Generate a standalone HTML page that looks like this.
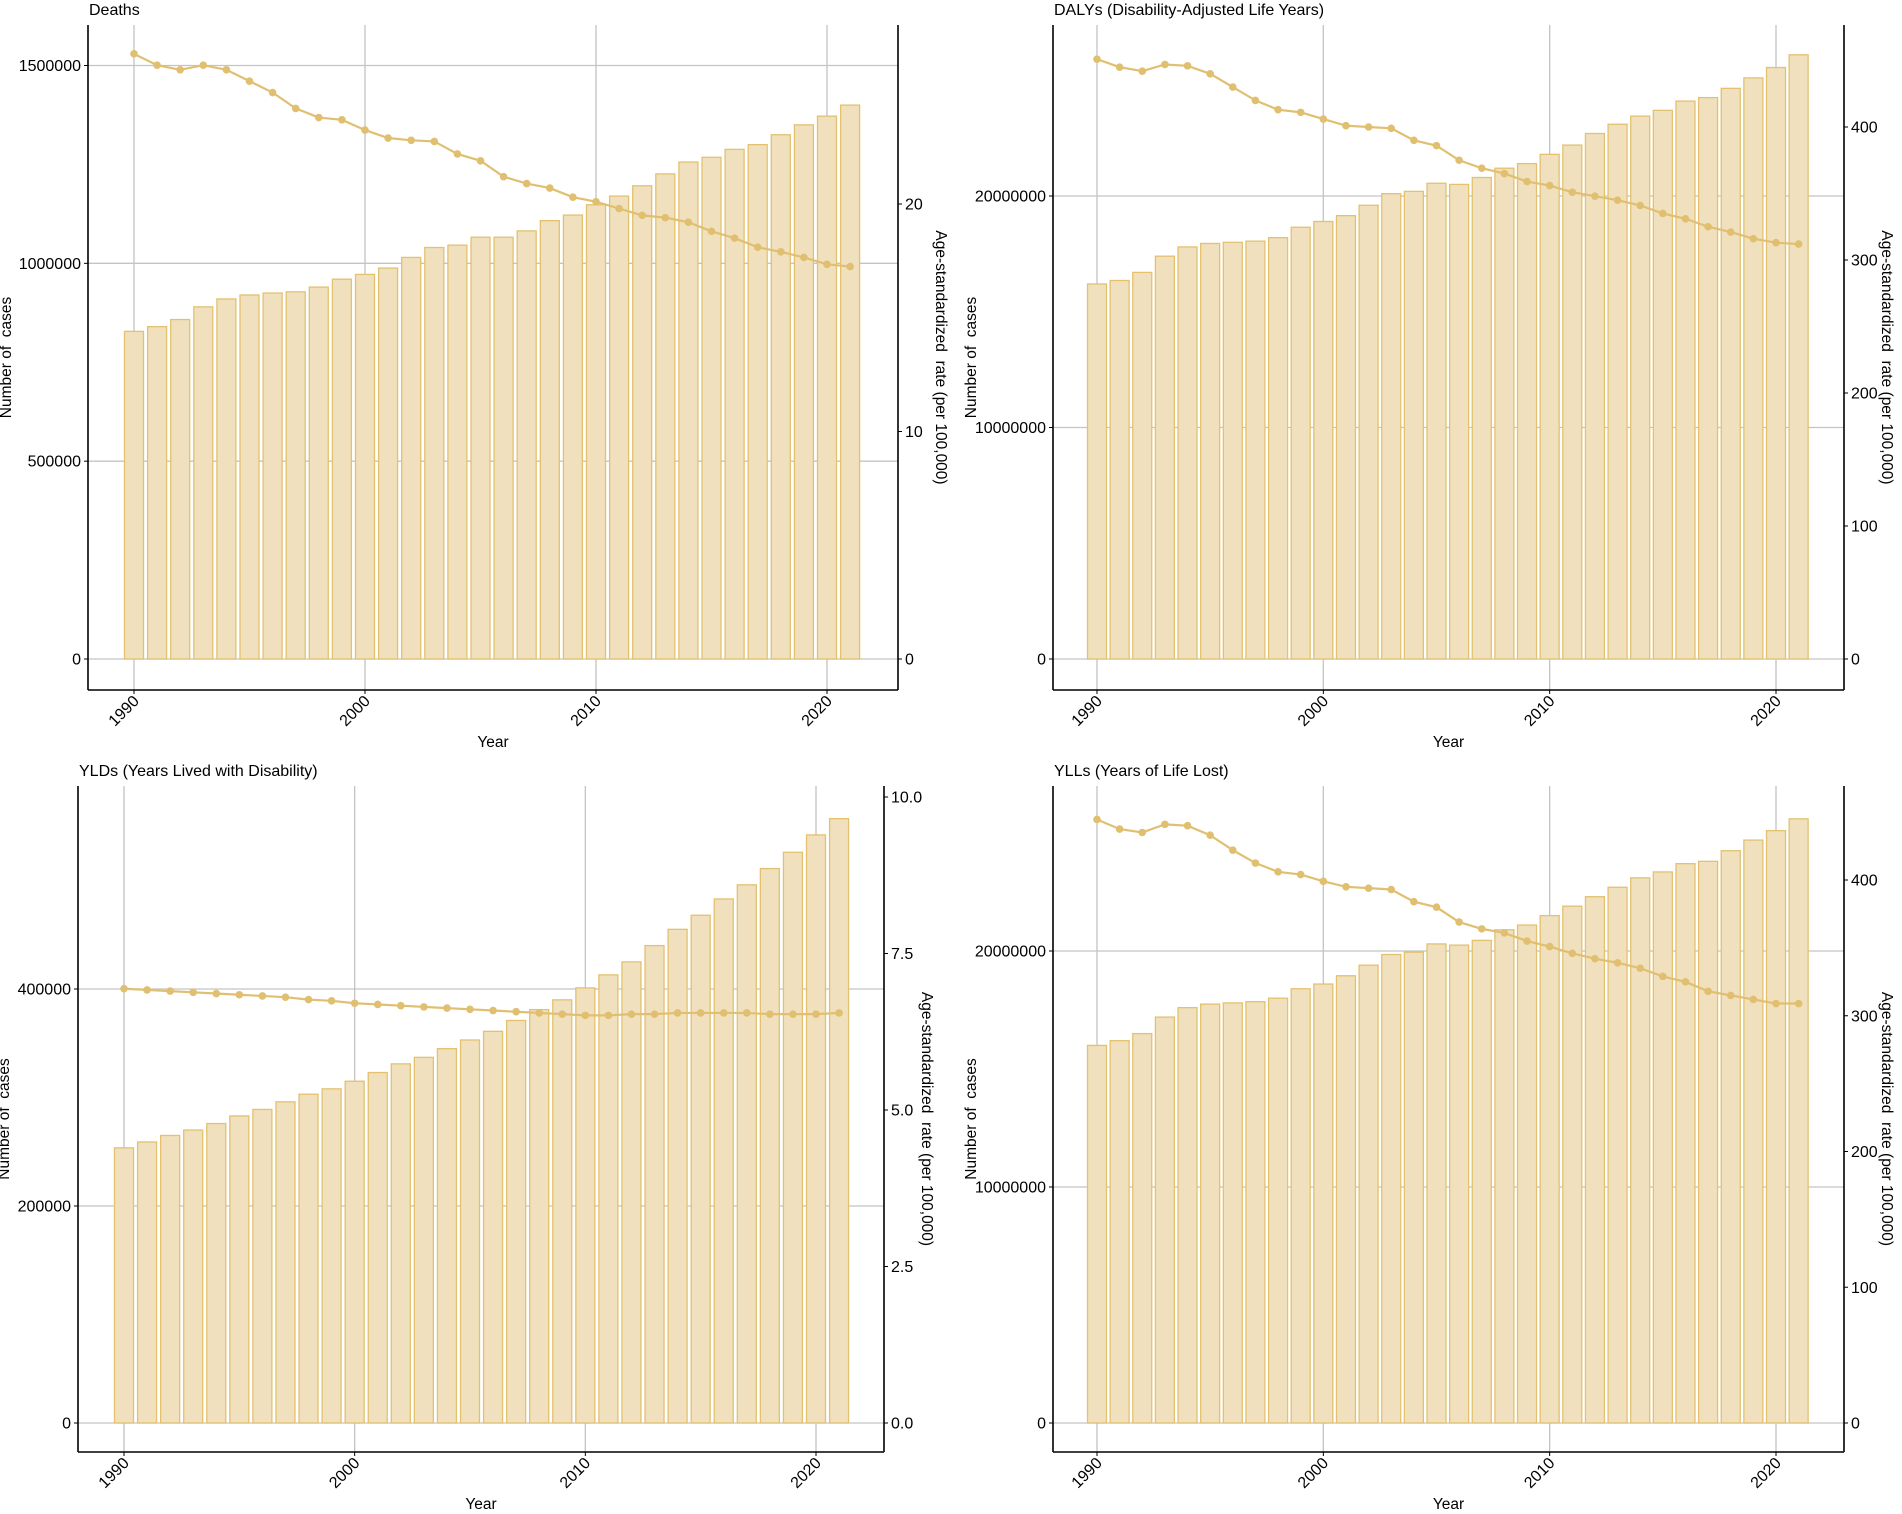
<!DOCTYPE html>
<html><head><meta charset="utf-8"><style>
body{margin:0;background:#fff;}
svg{display:block;font-family:"Liberation Sans",sans-serif;}
</style></head><body>
<svg id="s" width="1902" height="1514" xmlns="http://www.w3.org/2000/svg"></svg>
<script>
const S=document.getElementById('s');let h='';
const P=[
{t:'Deaths',L:88,R:898,T:25,B:690,x0:134,x1:827,y0:659,
 lt:[[0,'0'],[500000,'500000'],[1000000,'1000000'],[1500000,'1500000']],lpv:(659-65.5)/1500000,
 rt:[[0,'0'],[10,'10'],[20,'20']],rpv:(659-204)/20,
 bars:[828,840,858,890,910,920,925,928,940,960,972,988,1015,1040,1046,1066,1066,1082,1108,1122,1148,1170,1196,1226,1256,1268,1288,1300,1325,1350,1372,1400].map(v=>v*1000),
 rate:[26.6,26.1,25.9,26.1,25.9,25.4,24.9,24.2,23.8,23.7,23.25,22.9,22.8,22.75,22.2,21.9,21.2,20.9,20.7,20.3,20.1,19.8,19.5,19.4,19.2,18.8,18.5,18.1,17.9,17.65,17.35,17.25]},
{t:'DALYs (Disability-Adjusted Life Years)',L:1053,R:1844,T:25,B:690,x0:1097,x1:1776,y0:659,
 lt:[[0,'0'],[10000000,'10000000'],[20000000,'20000000']],lpv:(659-196)/20000000,
 rt:[[0,'0'],[100,'100'],[200,'200'],[300,'300'],[400,'400']],rpv:(659-127)/400,
 bars:[16.2,16.35,16.7,17.4,17.8,17.95,18.0,18.05,18.2,18.65,18.9,19.15,19.6,20.1,20.2,20.55,20.5,20.8,21.2,21.4,21.8,22.2,22.7,23.1,23.45,23.7,24.1,24.25,24.65,25.1,25.55,26.1].map(v=>v*1e6),
 rate:[451,445,442,447,446,440,430,420,413,411,406,401,400,399,390,386,375,369,365,359,356,351,348,345,341,335,331,325,321,316,313,312]},
{t:'YLDs (Years Lived with Disability)',L:78,R:884,T:786,B:1452,x0:124,x1:816,y0:1423,
 lt:[[0,'0'],[200000,'200000'],[400000,'400000']],lpv:(1423-989)/400000,
 rt:[[0,'0.0'],[2.5,'2.5'],[5,'5.0'],[7.5,'7.5'],[10,'10.0']],rpv:(1423-797)/10,
 bars:[253.6,259,265,270,276,283,289,296,303,308,315,323,331,337,345,353,361,371,381,390,401,413,425,440,455,468,483,496,511,526,542,557].map(v=>v*1000),
 rate:[815,816,817,818,819,820,821,822,824,825,827,828,829,830,831,832,833,834,835,836,837,837,836,836,835,835,835,835,836,836,836,835].map(y=>(1173-y)/51.6)},
{t:'YLLs (Years of Life Lost)',L:1053,R:1844,T:786,B:1452,x0:1097,x1:1776,y0:1423,
 lt:[[0,'0'],[10000000,'10000000'],[20000000,'20000000']],lpv:(1423-951)/20000000,
 rt:[[0,'0'],[100,'100'],[200,'200'],[300,'300'],[400,'400']],rpv:(1423-880)/400,
 bars:[16.0,16.2,16.5,17.2,17.6,17.75,17.8,17.85,18.0,18.4,18.6,18.95,19.4,19.85,19.95,20.3,20.25,20.45,20.9,21.1,21.5,21.9,22.3,22.7,23.1,23.35,23.7,23.8,24.25,24.7,25.1,25.6].map(v=>v*1e6),
 rate:[444.6,437.5,435,441,440,433,422,412.5,406,404,399,395,394,393,384,380,369,364,361,355,351,346,342,339,335,329,325,318,315,312,309,309]}
];
for(const p of P){
 const px=(y)=>p.x0+(y-1990)*(p.x1-p.x0)/30;
 for(const yr of [1990,2000,2010,2020]) h+=`<line x1="${px(yr)}" y1="${p.T}" x2="${px(yr)}" y2="${p.B}" stroke="#c4c4c4" stroke-width="1.3"/>`;
 for(const [v] of p.lt){const y=p.y0-v*p.lpv;h+=`<line x1="${p.L}" y1="${y}" x2="${p.R}" y2="${y}" stroke="#c4c4c4" stroke-width="1.3"/>`;}
 p.bars.forEach((v,i)=>{const c=px(1990+i),y=p.y0-v*p.lpv;h+=`<rect x="${c-9.5}" y="${y}" width="19" height="${p.y0-y}" fill="#f0e0bd" stroke="#e3c16f" stroke-width="1.3"/>`;});
 const pts=p.rate.map((v,i)=>[px(1990+i),p.y0-v*p.rpv]);
 h+=`<polyline points="${pts.map(q=>q.join(',')).join(' ')}" fill="none" stroke="#e0c070" stroke-width="2.2"/>`;
 pts.forEach(q=>h+=`<circle cx="${q[0]}" cy="${q[1]}" r="3.8" fill="#e0c070"/>`);
 h+=`<line x1="${p.L}" y1="${p.T}" x2="${p.L}" y2="${p.B}" stroke="#000" stroke-width="1.6"/>`;
 h+=`<line x1="${p.R}" y1="${p.T}" x2="${p.R}" y2="${p.B}" stroke="#000" stroke-width="1.6"/>`;
 h+=`<line x1="${p.L}" y1="${p.B}" x2="${p.R}" y2="${p.B}" stroke="#000" stroke-width="1.6"/>`;
 for(const [v,s] of p.lt){const y=p.y0-v*p.lpv;h+=`<line x1="${p.L-4}" y1="${y}" x2="${p.L}" y2="${y}" stroke="#000"/><text x="${p.L-7}" y="${y+5.5}" font-size="16" text-anchor="end">${s}</text>`;}
 for(const [v,s] of p.rt){const y=p.y0-v*p.rpv;h+=`<line x1="${p.R}" y1="${y}" x2="${p.R+4}" y2="${y}" stroke="#000"/><text x="${p.R+7}" y="${y+5.5}" font-size="16">${s}</text>`;}
 for(const yr of [1990,2000,2010,2020]){const x=px(yr);h+=`<line x1="${x}" y1="${p.B}" x2="${x}" y2="${p.B+4}" stroke="#000"/><text transform="translate(${x+6},${p.B+12}) rotate(-45)" font-size="16" text-anchor="end">${yr}</text>`;}
 const cx=(p.L+p.R)/2, cy=(p.T+p.B)/2;
 h+=`<text x="${cx}" y="${p.B+57}" font-size="15.5" text-anchor="middle">Year</text>`;
 h+=`<text transform="translate(${Math.max(9,p.L-77)},${cy}) rotate(-90)" font-size="15.5" text-anchor="middle" xml:space="preserve">Number of  cases</text>`;
 h+=`<text transform="translate(${p.R+38},${cy}) rotate(90)" font-size="15.5" text-anchor="middle" xml:space="preserve">Age-standardized  rate (per 100,000)</text>`;
 h+=`<text x="${p.L+1}" y="${p.T-10}" font-size="16">${p.t}</text>`;
}
S.innerHTML=h;
</script>
</body></html>
